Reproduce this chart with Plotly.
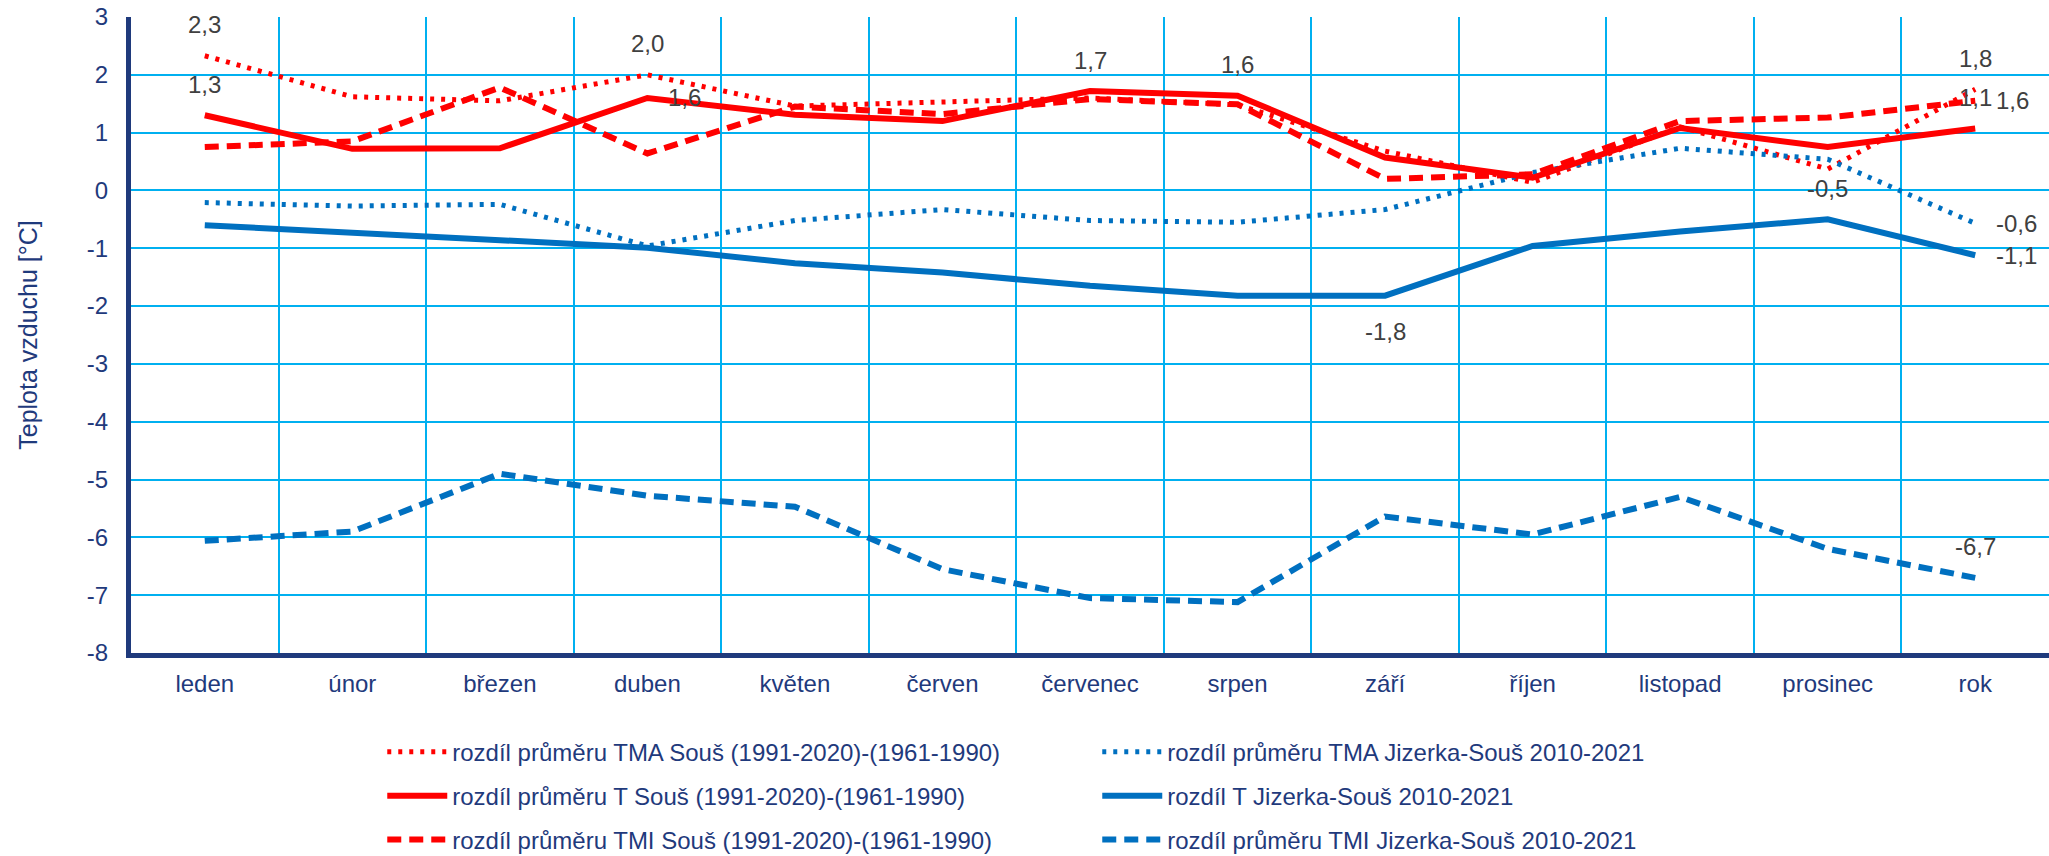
import plotly.graph_objects as go

categories = ["leden", "únor", "březen", "duben", "květen", "červen", "červenec",
              "srpen", "září", "říjen", "listopad", "prosinec", "rok"]

tma_sous = [2.33, 1.62, 1.55, 2.0, 1.46, 1.52, 1.6, 1.48, 0.68, 0.14, 1.1, 0.37, 1.75]
t_sous = [1.3, 0.72, 0.73, 1.6, 1.31, 1.2, 1.72, 1.64, 0.57, 0.22, 1.08, 0.75, 1.07]
tmi_sous = [0.75, 0.85, 1.78, 0.64, 1.45, 1.32, 1.58, 1.49, 0.2, 0.28, 1.2, 1.26, 1.55]
tma_jiz = [-0.21, -0.27, -0.24, -0.96, -0.52, -0.33, -0.52, -0.55, -0.33, 0.31, 0.73, 0.54, -0.57]
t_jiz = [-0.6, -0.73, -0.86, -0.99, -1.26, -1.42, -1.65, -1.82, -1.82, -0.96, -0.71, -0.5, -1.12]
tmi_jiz = [-6.06, -5.9, -4.9, -5.28, -5.47, -6.55, -7.05, -7.12, -5.64, -5.95, -5.3, -6.2, -6.7]

y_ticks = [3, 2, 1, 0, -1, -2, -3, -4, -5, -6, -7, -8]
y_ticktext = ["3", "2", "1", "0", "-1", "-2", "-3", "-4", "-5", "-6", "-7", "-8"]

names = {
    "tma_sous": "rozdíl průměru TMA Souš (1991-2020)-(1961-1990)",
    "t_sous": "rozdíl průměru T Souš (1991-2020)-(1961-1990)",
    "tmi_sous": "rozdíl průměru TMI Souš (1991-2020)-(1961-1990)",
    "tma_jiz": "rozdíl průměru TMA Jizerka-Souš 2010-2021",
    "t_jiz": "rozdíl T Jizerka-Souš 2010-2021",
    "tmi_jiz": "rozdíl průměru TMI Jizerka-Souš 2010-2021",
}
series = {"tma_sous": tma_sous, "t_sous": t_sous, "tmi_sous": tmi_sous,
          "tma_jiz": tma_jiz, "t_jiz": t_jiz, "tmi_jiz": tmi_jiz}

RED = "#FF0000"
BLUE = "#0070C0"
NAVY = "#1F3A7C"
GRID = "#00B0F0"
LABEL = "#404040"
FONT = "Liberation Sans, Arial, sans-serif"

styles = {
    "tma_sous": dict(color=RED, width=5, dash="4px,7px"),
    "t_sous": dict(color=RED, width=6, dash="solid"),
    "tmi_sous": dict(color=RED, width=6, dash="14px,8px"),
    "tma_jiz": dict(color=BLUE, width=5, dash="4px,7px"),
    "t_jiz": dict(color=BLUE, width=6, dash="solid"),
    "tmi_jiz": dict(color=BLUE, width=6, dash="14px,8px"),
}
# legend rows: (left, right)
legend_rows = [("tma_sous", "tma_jiz"), ("t_sous", "t_jiz"), ("tmi_sous", "tmi_jiz")]

fig = go.Figure()
for r, row in enumerate(legend_rows):
    lg = "legend" if r == 0 else f"legend{r+1}"
    for key in row:
        fig.add_trace(go.Scatter(
            x=categories, y=series[key], mode="lines", name=names[key],
            line=styles[key], legend=lg, hoverinfo="skip"))

# data labels: (series, index, position)
label_spec = [
    ("tma_sous", 0, "top"), ("t_sous", 0, "top"), ("tma_sous", 3, "top"),
    ("t_sous", 3, "right"), ("t_sous", 6, "top"), ("t_sous", 7, "top"),
    ("t_jiz", 8, "bottom"), ("t_jiz", 11, "top"), ("tma_sous", 12, "top"),
    ("t_sous", 12, "top"), ("tmi_sous", 12, "right"), ("tma_jiz", 12, "right"),
    ("t_jiz", 12, "right"), ("tmi_jiz", 12, "top"),
]
for key, i, pos in label_spec:
    v = series[key][i]
    txt = f"{v:.1f}".replace(".", ",")
    a = dict(x=categories[i], y=v, xref="x", yref="y", text=txt, showarrow=False,
             font=dict(family=FONT, size=24, color=LABEL))
    if pos == "top":
        a.update(yshift=31)
    elif pos == "bottom":
        a.update(yshift=-36)
    else:
        a.update(xanchor="left", xshift=19, yshift=0)
    fig.add_annotation(**a)

legend_common = dict(orientation="h", xanchor="left", yanchor="middle",
                     font=dict(family=FONT, size=24, color=NAVY),
                     entrywidth=640, entrywidthmode="pixels", itemwidth=60,
                     bgcolor="rgba(0,0,0,0)", traceorder="normal")
row_y = [-0.156, -0.225, -0.294]
leg_x = 0.131

fig.update_layout(
    width=2049, height=856,
    margin=dict(l=131, r=0, t=17, b=203, autoexpand=False),
    paper_bgcolor="white", plot_bgcolor="white",
    font=dict(family=FONT, size=24, color=NAVY),
    showlegend=True,
    legend=dict(x=leg_x, y=row_y[0], **legend_common),
    legend2=dict(x=leg_x, y=row_y[1], **legend_common),
    legend3=dict(x=leg_x, y=row_y[2], **legend_common),
    xaxis=dict(type="category", tickson="boundaries", showgrid=True,
               gridcolor=GRID, gridwidth=2, showline=True, linecolor=NAVY,
               linewidth=5, ticks="", ticklabelstandoff=5,
               tickfont=dict(family=FONT, size=24, color=NAVY),
               range=[-0.5, 12.5], zeroline=False),
    yaxis=dict(range=[-8, 3], tickmode="array", tickvals=y_ticks, ticktext=y_ticktext,
               showgrid=True, gridcolor=GRID,
               gridwidth=2, showline=True, linecolor=NAVY, linewidth=5,
               zeroline=False, ticks="", ticklabelstandoff=13,
               tickfont=dict(family=FONT, size=24, color=NAVY),
               title=dict(text="Teplota vzduchu [°C]", standoff=44,
                          font=dict(family=FONT, size=25, color=NAVY))),
)

fig.write_html("out.html", config={"displayModeBar": False},
               post_script="document.body.style.margin='0';document.body.style.overflow='hidden';")
